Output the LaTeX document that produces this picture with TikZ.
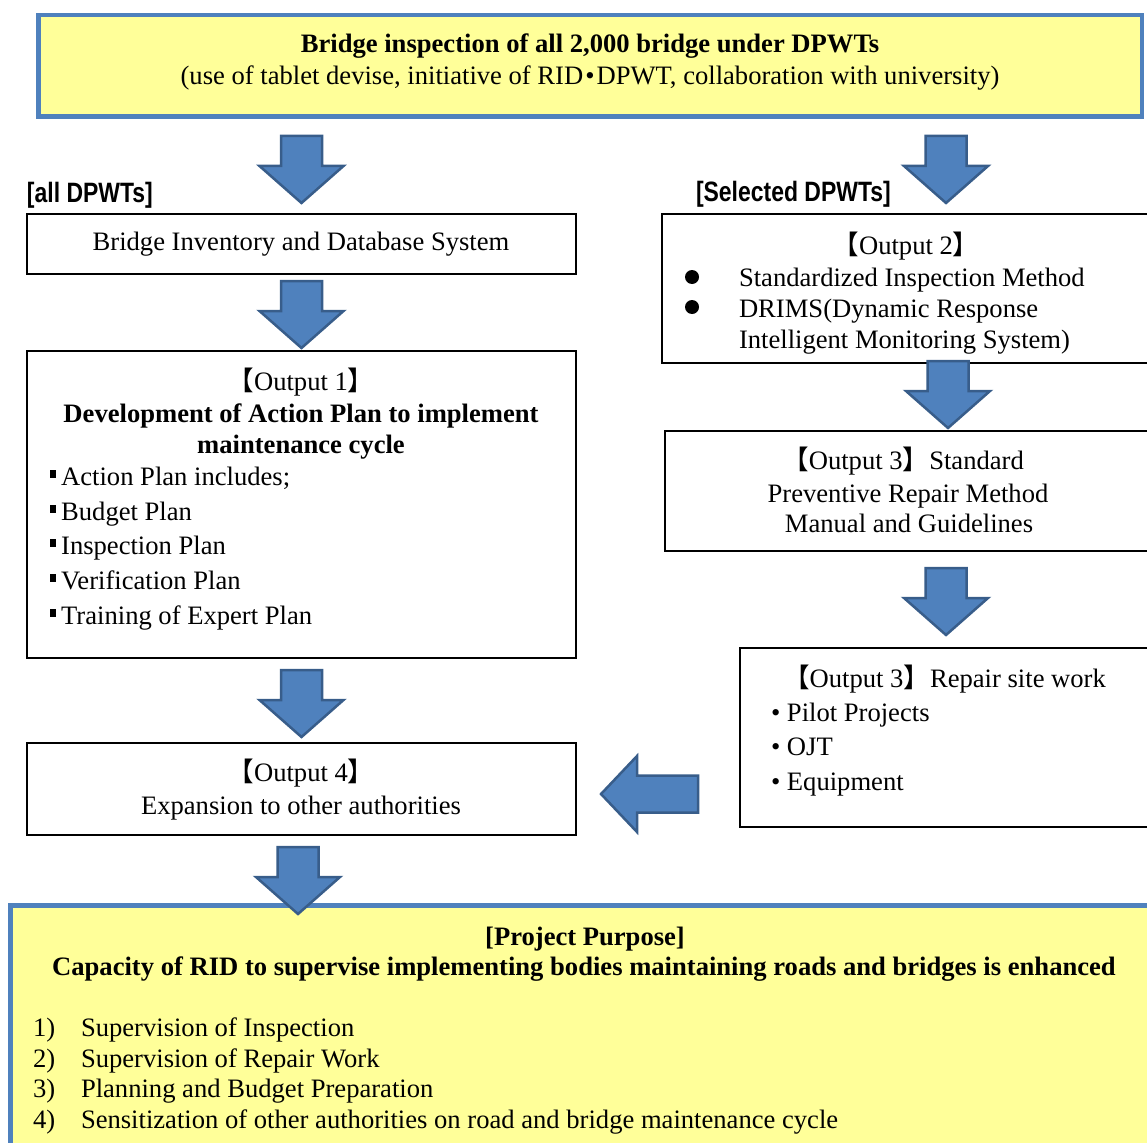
\documentclass[tikz,border=0pt]{standalone}
\usepackage{fontspec}
\setmainfont{Liberation Serif}
\newfontfamily\cjkfont{Noto Sans CJK JP}
\newfontfamily\labelfont[FakeStretch=0.82]{Liberation Sans}
\usetikzlibrary{calc}

\definecolor{panelyellow}{RGB}{255,255,153}
\definecolor{panelblue}{RGB}{79,129,189}
\definecolor{arrowfill}{RGB}{79,129,189}
\definecolor{arrowedge}{RGB}{56,93,138}

\newcommand{\bodysize}{\fontsize{26.6}{32}\selectfont}
\newcommand{\lbr}{{\cjkfont 【}}
\newcommand{\rbr}{{\cjkfont 】}}
\newcommand{\sqmark}{\rule[0.25em]{0.22em}{0.33em}\hspace{0.2em}}
\newcommand{\middot}{\kern2pt•\kern2pt}

\tikzset{
  pics/downarrow/.style={code={
    \draw[blockarrow] (-20.5,0) -- (20.5,0) -- (20.5,30) -- (42,30)
      -- (0,67) -- (-42,30) -- (-20.5,30) -- cycle;
  }}
}

\begin{document}
\begin{tikzpicture}[x=1pt,y=-1pt,
  every node/.style={inner sep=0pt, outer sep=0pt, font=\bodysize},
  txt/.style={anchor=base},
  txtl/.style={anchor=base west},
  box/.style={draw=black, line width=2pt, fill=white, anchor=north west},
  goalbox/.style={draw=panelblue, fill=panelyellow, line width=4.5pt, anchor=north west},
  blockarrow/.style={draw=arrowedge, fill=arrowfill, line width=2.5pt, line join=miter},
  dot/.style={circle, fill=black, minimum size=14pt},
  tag/.style={anchor=base west, font=\labelfont\bfseries\fontsize{28}{32}\selectfont}
]
\useasboundingbox (0,0) rectangle (1147,1142);
\clip (0,0) rectangle (1147,1142);

% ---- boxes ----
\node[goalbox, minimum width=1103.5pt, minimum height=101.5pt] (survey) at (38.25,15.25) {};
\node[box, minimum width=549pt, minimum height=60pt]  (inv)    at (27,214) {};
\node[box, minimum width=549pt, minimum height=307pt] (out1)   at (27,351) {};
\node[box, minimum width=549pt, minimum height=92pt]  (out4)   at (27,743) {};
\node[box, minimum width=520pt, minimum height=149pt] (out2)   at (662,214) {};
\node[box, minimum width=520pt, minimum height=120pt] (out3)   at (665,431) {};
\node[box, minimum width=460pt, minimum height=179pt] (repair) at (740,648) {};
\node[goalbox, minimum width=1200pt, minimum height=300pt] (purpose) at (10.5,905.5) {};

% ---- block arrows ----
\coordinate (rcol) at (946,0);
\pic at ($(inv.north |- survey.south)+(0,19.25)$) {downarrow};
\pic at ($(rcol |- survey.south)+(0,19.25)$) {downarrow};
\pic at ($(inv.south)+(0,7)$) {downarrow};
\pic at ($(out1.south)+(0,12)$) {downarrow};
\pic at ($(out4.south)+(-3.5,12)$) {downarrow};
\pic at ($(rcol |- out2.south)+(2,-2)$) {downarrow};
\pic at ($(rcol |- out3.south)+(0,17)$) {downarrow};
\coordinate (ltip)  at ($(out4.east)+(25,5)$);
\coordinate (ltail) at ($(repair.west |- ltip)+(-42,0)$);
\draw[blockarrow] (ltail) ++(0,-18.5) -- ++(-61,0) -- ++(0,-19.5) -- (ltip)
  -- ++(36,38) -- ++(0,-19.5) -- ++(61,0) -- cycle;

% ---- texts: top panel ----
\node[txt, font=\bodysize\bfseries] (s1) at (590,53) {Bridge inspection of all 2,000 bridge under DPWTs};
\node[txt] (s2) at (590,85) {(use of tablet devise, initiative of RID\middot DPWT, collaboration with university)};

\node[tag] (tagall) at (27,202) {[all DPWTs]};
\node[tag] (tagsel) at (696,201) {[Selected DPWTs]};

% ---- left column ----
\node[txt] (invt) at (301,250) {Bridge Inventory and Database System};

\node[txt] (o1h) at (301,390) {\lbr Output 1\rbr};
\node[txt, font=\bodysize\bfseries] (o1b1) at (301,422) {Development of Action Plan to implement};
\node[txt, font=\bodysize\bfseries] (o1b2) at (301,453) {maintenance cycle};
\node[txtl] (o1l1) at (50,485) {\sqmark Action Plan includes;};
\node[txtl] (o1l2) at (50,520) {\sqmark Budget Plan};
\node[txtl] (o1l3) at (50,554) {\sqmark Inspection Plan};
\node[txtl] (o1l4) at (50,589) {\sqmark Verification Plan};
\node[txtl] (o1l5) at (50,624) {\sqmark Training of Expert Plan};

\node[txt] (o4h) at (301,781) {\lbr Output 4\rbr};
\node[txt] (o4t) at (301,814) {Expansion to other authorities};

% ---- right column ----
\node[txt] (o2h) at (906,254) {\lbr Output 2\rbr};
\node[dot] (o2d1) at (692,277) {};
\node[txtl] (o2l1) at (739,286) {Standardized Inspection Method};
\node[dot] (o2d2) at (692,307) {};
\node[txtl] (o2l2) at (739,317) {DRIMS(Dynamic Response};
\node[txtl] (o2l3) at (739,348) {Intelligent Monitoring System)};

\node[txt] (o3a) at (903,469) {\lbr Output 3\rbr Standard};
\node[txt] (o3b) at (908,502) {Preventive Repair Method};
\node[txt] (o3c) at (909,532) {Manual and Guidelines};

\node[txtl] (rh) at (783,687) {\lbr Output 3\rbr Repair site work};
\node[txtl] (rl1) at (771,721) {• Pilot Projects};
\node[txtl] (rl2) at (771,755) {• OJT};
\node[txtl] (rl3) at (771,790) {• Equipment};

% ---- project purpose ----
\node[txt, font=\bodysize\bfseries] (pp1) at (585,945) {[Project Purpose]};
\node[txt, font=\bodysize\bfseries] (pp2) at (584,975) {Capacity of RID to supervise implementing bodies maintaining roads and bridges is enhanced};
\node[txtl] (pn1) at (33,1036) {1)};
\node[txtl] (pt1) at (81,1036) {Supervision of Inspection};
\node[txtl] (pn2) at (33,1067) {2)};
\node[txtl] (pt2) at (81,1067) {Supervision of Repair Work};
\node[txtl] (pn3) at (33,1097) {3)};
\node[txtl] (pt3) at (81,1097) {Planning and Budget Preparation};
\node[txtl] (pn4) at (33,1128) {4)};
\node[txtl] (pt4) at (81,1128) {Sensitization of other authorities on road and bridge maintenance cycle};
\end{tikzpicture}
\end{document}
